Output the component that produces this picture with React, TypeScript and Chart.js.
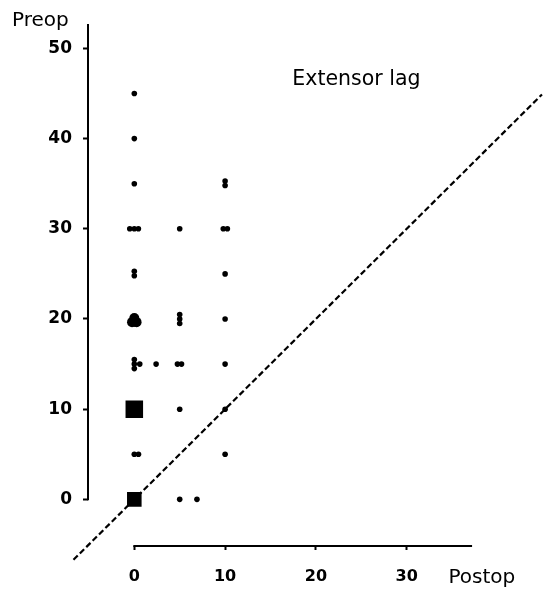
import React, { useEffect, useRef } from 'react';
import { Chart, registerables } from 'chart.js';

Chart.register(...registerables);

// ---- data ----
const xTickValues = [0, 10, 20, 30];
const yTickValues = [0, 10, 20, 30, 40, 50];

// individual patients (postop, preop); overlapping dots listed as seen
const dotPostop = [
  0, 0, 0,
  -0.5, 0, 0.45,
  0, 0,
  0, 0, 0, 0.6,
  0, 0.46,
  2.4,
  5, 5, 5, 5, 4.75, 5.2, 5, 5,
  6.9,
  10, 10, 9.8, 10.25, 10, 10, 10, 10, 10,
];
const dotPreop = [
  45, 40, 35,
  30, 30, 30,
  25.3, 24.8,
  15.5, 15, 14.5, 15,
  5, 5,
  15,
  30, 20.5, 20, 19.5, 15, 15, 10, 0,
  0,
  35.3, 34.8, 30, 30, 25, 20, 15, 10, 5,
];

// heavily overlapped group at postop 0 / preop 20 (pile of dots)
const pilePostop = [-0.25, 0.25, 0, 0];
const pilePreop = [19.65, 19.65, 20.1, 19.7];

// heavily overlapped groups drawn as solid squares
const clusterPostop = [0, 0];
const clusterPreop = [10, 0];

// line of identity (postop = preop)
const identityEnds = [-6.7, 44.9];

const FONT = 'DejaVu Sans';

export default function App() {
  const canvasRef = useRef<HTMLCanvasElement | null>(null);

  useEffect(() => {
    const canvas = canvasRef.current;
    if (!canvas) return;

    const axesPlugin = {
      id: 'customAxes',
      afterDraw(chart: any) {
        const { ctx, chartArea } = chart;
        const xs = chart.scales.x;
        const ys = chart.scales.y;
        ctx.save();
        ctx.strokeStyle = '#000';
        ctx.lineWidth = 2;
        ctx.lineCap = 'butt';
        // y axis line
        const yax = chartArea.left;
        ctx.beginPath();
        ctx.moveTo(yax, ys.getPixelForValue(52.7));
        ctx.lineTo(yax, ys.getPixelForValue(0) + 1);
        ctx.stroke();
        // x axis line
        const xay = chartArea.bottom;
        ctx.beginPath();
        ctx.moveTo(xs.getPixelForValue(0) - 1, xay);
        ctx.lineTo(xs.getPixelForValue(37.2), xay);
        ctx.stroke();

        // texts
        ctx.fillStyle = '#000';
        ctx.textAlign = 'left';
        ctx.textBaseline = 'alphabetic';
        ctx.font = `20px "${FONT}"`;
        ctx.fillText('Preop', yax - 76, ys.getPixelForValue(52.7) + 2);
        ctx.fillText('Postop', xs.getPixelForValue(34.6), xay + 37);
        ctx.font = `20.5px "${FONT}"`;
        ctx.fillText('Extensor lag', xs.getPixelForValue(17.4), ys.getPixelForValue(45.9));
        ctx.restore();
      },
    };

    const chart = new Chart(canvas, {
      type: 'scatter',
      data: {
        datasets: [
          {
            label: 'identity',
            type: 'line',
            data: identityEnds.map((v) => ({ x: v, y: v })),
            borderColor: '#000',
            borderWidth: 2.2,
            borderDash: [6, 3],
            pointRadius: 0,
            fill: false,
            showLine: true,
            clip: false as any,
            order: 4,
          } as any,
          {
            label: 'clusters',
            data: clusterPostop.map((x, i) => ({ x, y: clusterPreop[i] })),
            pointStyle: 'rect',
            pointRadius: [12.4, 10.3],
            pointBackgroundColor: '#000',
            pointBorderWidth: 0,
            order: 1,
          } as any,
          {
            label: 'pile',
            data: pilePostop.map((x, i) => ({ x, y: pilePreop[i] })),
            pointStyle: 'circle',
            pointRadius: 5,
            pointBackgroundColor: '#000',
            pointBorderWidth: 0,
            order: 2,
          },
          {
            label: 'patients',
            data: dotPostop.map((x, i) => ({ x, y: dotPreop[i] })),
            pointStyle: 'circle',
            pointRadius: 2.8,
            pointBackgroundColor: '#000',
            pointBorderWidth: 0,
            order: 3,
          },
        ],
      },
      options: {
        responsive: true,
        maintainAspectRatio: false,
        animation: false,
        layout: { padding: { left: 0, bottom: 0, top: 20, right: 20 } },
        plugins: {
          legend: { display: false },
          tooltip: { enabled: false },
        },
        scales: {
          x: {
            type: 'linear',
            position: 'bottom',
            min: -5.1,
            max: 43.47,
            border: { display: false },
            grid: {
              display: true,
              drawOnChartArea: false,
              drawTicks: true,
              tickLength: 4,
              tickWidth: 2,
              color: '#000',
              tickColor: '#000',
            },
            ticks: {
              font: { family: FONT, size: 16, weight: 'bold' },
              color: '#000',
              padding: 17,
              maxRotation: 0,
            },
            afterBuildTicks: (s: any) => {
              s.ticks = xTickValues.map((v) => ({ value: v }));
            },
            afterFit: (s: any) => {
              s.height = 43;
            },
          },
          y: {
            type: 'linear',
            position: 'left',
            min: -5.17,
            max: 53.02,
            border: { display: false },
            grid: {
              display: true,
              drawOnChartArea: false,
              drawTicks: true,
              tickLength: 5,
              tickWidth: 2,
              color: '#000',
              tickColor: '#000',
            },
            ticks: {
              font: { family: FONT, size: 17, weight: 'bold' },
              color: '#000',
              padding: 11,
            },
            afterBuildTicks: (s: any) => {
              s.ticks = yTickValues.map((v) => ({ value: v }));
            },
            afterFit: (s: any) => {
              s.width = 88;
            },
          },
        },
      },
      plugins: [axesPlugin],
    });

    return () => chart.destroy();
  }, []);

  return (
    <div style={{ position: 'absolute', left: 0, top: 0, width: 549, height: 589 }}>
      <canvas ref={canvasRef} />
    </div>
  );
}
